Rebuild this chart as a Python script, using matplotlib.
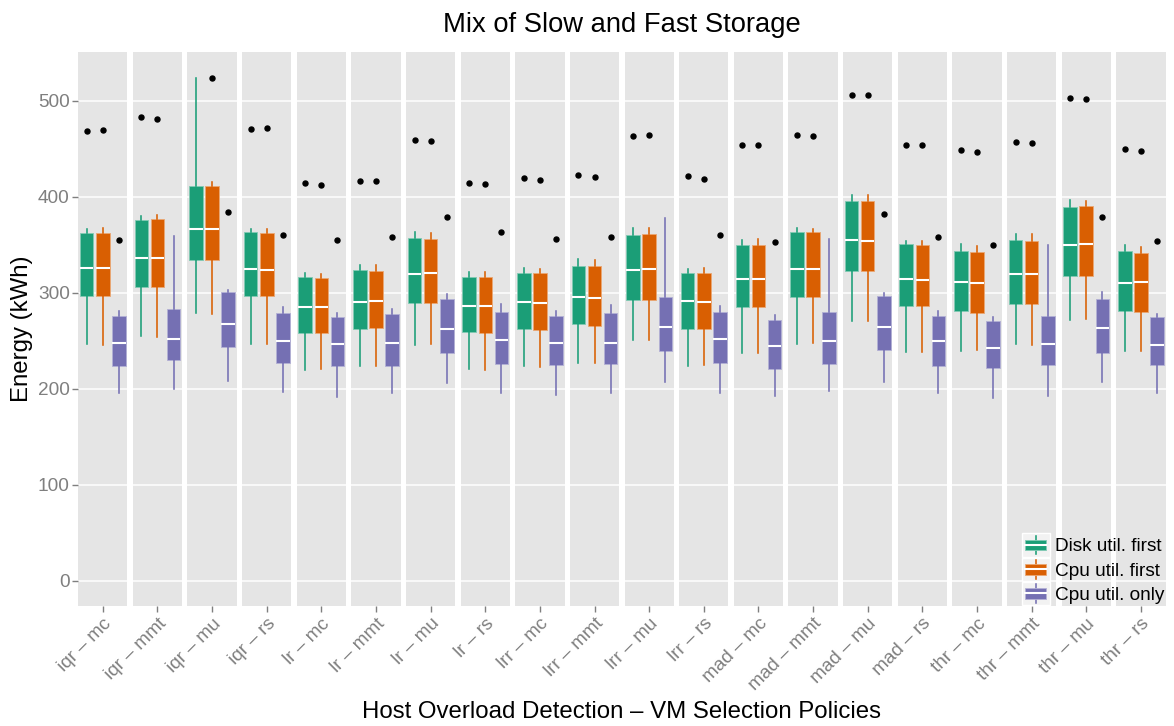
import numpy as np
import matplotlib
matplotlib.use("Agg")
import matplotlib.pyplot as plt
from matplotlib.legend_handler import HandlerBase
from matplotlib.patches import Rectangle, Patch
from matplotlib.lines import Line2D
from matplotlib.colors import to_rgb

plt.rcParams['font.family'] = ['Liberation Sans', 'DejaVu Sans']

# === DADOS ===
detections = ["iqr", "lr", "lrr", "mad", "thr"]
selections = ["mc", "mmt", "mu", "rs"]
policies = [d + " \u2013 " + s for d in detections for s in selections]

series_names = ["Disk util. first", "Cpu util. first", "Cpu util. only"]
series_colors = ["#1B9E77", "#D95F02", "#7570B3"]

# Disk util. first
disk_lo = [246.4, 254.7, 278.9, 247.1, 220.0, 223.8, 246.0, 220.7, 223.8, 227.3,
           251.2, 223.8, 237.7, 246.4, 270.6, 238.4, 239.4, 246.7, 271.3, 239.1]
disk_q1 = [296.3, 306.0, 334.0, 296.6, 257.8, 262.6, 289.3, 258.9, 262.0, 267.5,
           292.8, 262.0, 285.2, 295.6, 322.9, 285.9, 281.0, 288.3, 317.0, 280.7]
disk_med = [326.1, 335.8, 366.6, 324.7, 285.2, 290.7, 319.5, 285.9, 290.4, 295.6,
            324.0, 291.1, 314.6, 324.3, 354.5, 313.9, 310.8, 319.8, 349.6, 310.5]
disk_q3 = [362.4, 375.3, 411.0, 363.1, 316.0, 323.6, 357.2, 316.7, 320.9, 327.8,
           360.4, 320.9, 349.3, 362.8, 396.0, 350.3, 343.7, 354.5, 389.1, 343.4]
disk_hi = [366.6, 379.8, 523.6, 365.9, 320.9, 329.2, 363.5, 321.2, 325.4, 334.7,
           367.6, 325.0, 354.5, 367.6, 401.9, 354.1, 350.3, 361.4, 396.7, 349.3]
disk_out = [468.8, 483.4, None, 470.5, 414.4, 416.8, 459.5, 414.4, 420.0, 423.1,
            463.3, 422.0, 454.3, 464.7, 506.2, 454.3, 448.7, 457.0, 503.1, 450.1]

# Cpu util. first
cpuf_lo = [246.0, 254.3, 278.2, 246.4, 220.7, 223.5, 247.1, 220.0, 223.1, 227.3,
           250.9, 224.9, 237.0, 247.7, 270.6, 238.4, 240.1, 245.3, 272.7, 239.8]
cpuf_q1 = [296.3, 306.3, 334.0, 297.0, 257.8, 263.3, 289.3, 258.5, 261.6, 265.8,
           292.8, 262.0, 285.2, 295.6, 322.9, 286.6, 279.3, 288.3, 317.0, 280.0]
cpuf_med = [325.4, 336.5, 365.9, 324.0, 285.5, 291.8, 320.5, 286.2, 289.3, 294.9,
            324.7, 290.4, 313.9, 325.0, 354.1, 313.2, 310.1, 319.5, 350.7, 311.2]
cpuf_q3 = [362.4, 376.6, 411.0, 362.4, 315.3, 322.9, 356.2, 316.0, 320.5, 327.4,
           360.7, 320.9, 350.0, 362.8, 396.0, 350.0, 342.3, 354.1, 390.2, 341.6]
cpuf_hi = [367.6, 380.8, 415.1, 366.6, 319.8, 329.2, 362.4, 321.2, 324.7, 334.4,
           367.3, 326.1, 355.5, 365.9, 401.9, 354.1, 348.9, 360.7, 396.0, 347.5]
cpuf_out = [469.9, 480.9, 523.6, 471.6, 412.3, 416.8, 458.4, 413.7, 417.9, 421.0,
            464.7, 418.9, 454.3, 463.6, 506.2, 454.3, 447.0, 456.3, 502.1, 448.0]

# Cpu util. only
cpuo_lo = [195.8, 199.9, 207.6, 196.5, 191.6, 195.1, 205.5, 196.1, 193.7, 195.8,
           206.9, 195.1, 192.0, 198.2, 207.2, 195.1, 190.6, 192.7, 207.2, 196.1]
cpuo_q1 = [224.2, 229.7, 243.9, 227.3, 223.5, 224.2, 237.7, 226.3, 224.9, 225.9,
           239.4, 227.0, 221.1, 226.3, 240.8, 224.2, 221.8, 224.5, 237.7, 224.9]
cpuo_med = [247.4, 251.9, 267.8, 250.2, 247.1, 247.7, 262.3, 251.2, 247.7, 247.7,
            264.4, 251.6, 244.6, 249.5, 264.4, 249.5, 242.2, 247.1, 263.7, 245.7]
cpuo_q3 = [275.8, 283.1, 300.8, 279.3, 275.1, 277.9, 293.5, 280.0, 276.2, 278.6,
           295.9, 279.6, 271.3, 280.3, 296.3, 275.5, 270.3, 275.8, 293.5, 275.1]
cpuo_hi = [281.0, 359.3, 302.5, 284.8, 279.3, 283.4, 299.0, 288.3, 280.7, 287.6,
           378.0, 286.6, 276.5, 355.5, 299.7, 280.7, 275.1, 349.3, 300.8, 277.5]
cpuo_out = [355.2, None, 384.6, 360.4, 355.2, 357.6, 379.4, 362.8, 355.5, 357.6,
            None, 360.4, 352.4, None, 381.5, 357.6, 349.3, None, 378.4, 353.4]

series_stats = [
    (disk_lo, disk_q1, disk_med, disk_q3, disk_hi, disk_out),
    (cpuf_lo, cpuf_q1, cpuf_med, cpuf_q3, cpuf_hi, cpuf_out),
    (cpuo_lo, cpuo_q1, cpuo_med, cpuo_q3, cpuo_hi, cpuo_out),
]

GREY = "#7F7F7F"
PANEL = "#E5E5E5"


def lighter(c, f=0.45):
    r, g, b = to_rgb(c)
    return (r + (1 - r) * f, g + (1 - g) * f, b + (1 - b) * f)


# === FIGURA ===
fig, axes = plt.subplots(1, len(policies), figsize=(11.74, 7.26), dpi=100, sharey=True)
fig.subplots_adjust(left=0.0666, right=0.9928, top=0.9277, bottom=0.1653, wspace=0.108)

for i, ax in enumerate(axes):
    ax.set_facecolor(PANEL)
    for s in ax.spines.values():
        s.set_visible(False)
    ax.yaxis.grid(True, color="white", linewidth=1.1)
    ax.set_axisbelow(True)

    for k, (lo, q1, med, q3, hi, out) in enumerate(series_stats):
        c = series_colors[k]
        st = [{"whislo": lo[i], "q1": q1[i], "med": med[i], "q3": q3[i],
               "whishi": hi[i], "fliers": [] if out[i] is None else [out[i]]}]
        ax.bxp(st, positions=[k - 1], widths=0.84, patch_artist=True,
               showcaps=False, showfliers=True,
               boxprops=dict(facecolor=c, edgecolor=lighter(c), linewidth=0.6),
               whiskerprops=dict(color=c, linewidth=1.15),
               medianprops=dict(color="white", linewidth=1.5),
               flierprops=dict(marker="o", markerfacecolor="black",
                               markeredgecolor="black", markersize=3.6,
                               linestyle="none"))

    ax.set_xlim(-1.53, 1.53)
    ax.set_ylim(-26.2, 550.2)
    ax.set_xticks([0])
    ax.set_xticklabels([policies[i]], rotation=45, ha="right", va="top",
                       rotation_mode="anchor", fontsize=13.7, color=GREY)
    ax.tick_params(axis="x", colors=GREY, length=4, width=1, pad=2.5, labelcolor=GREY)
    if i == 0:
        ax.set_yticks([0, 100, 200, 300, 400, 500])
        ax.tick_params(axis="y", colors=GREY, length=4, width=1, pad=2,
                       labelsize=13.7, labelcolor=GREY)
    else:
        ax.tick_params(axis="y", length=0, labelleft=False)

cx = (0.0666 + 0.9928) / 2
fig.text(cx, 0.9656, "Mix of Slow and Fast Storage", ha="center", va="center",
         fontsize=19.7, color="black")
fig.text(cx, 0.0193, "Host Overload Detection \u2013 VM Selection Policies",
         ha="center", va="center", fontsize=17.3, color="black")
fig.text(0.019, (0.9277 + 0.1653) / 2, "Energy (kWh)", rotation=90,
         ha="center", va="center", fontsize=17.3, color="black")


# --- Legenda com glifo de boxplot ---
class BoxHandler(HandlerBase):
    def create_artists(self, legend, orig_handle, xdescent, ydescent,
                       width, height, fontsize, trans):
        c = orig_handle.get_facecolor()
        x0, y0 = -xdescent, -ydescent
        bg = Rectangle((x0, y0), width, height, facecolor="#F2F2F2",
                       edgecolor="white", linewidth=1, transform=trans)
        xm = x0 + width / 2
        wl = Line2D([xm, xm], [y0 + 0.1 * height, y0 + 0.9 * height],
                    color=c, linewidth=1.15, transform=trans)
        bx = Rectangle((x0 + 0.12 * width, y0 + 0.27 * height), 0.76 * width,
                       0.46 * height, facecolor=c, edgecolor=lighter(c),
                       linewidth=0.6, transform=trans)
        md = Line2D([x0 + 0.12 * width, x0 + 0.88 * width],
                    [y0 + height / 2, y0 + height / 2],
                    color="white", linewidth=1.5, transform=trans)
        return [bg, wl, bx, md]


handles = [Patch(facecolor=c) for c in series_colors]
fig.legend(handles, series_names, handler_map={Patch: BoxHandler()},
           loc="lower left", bbox_to_anchor=(1021.7 / 1174, 1 - 605 / 726),
           frameon=False, fontsize=13.7, handlelength=1.47, handleheight=1.5,
           labelspacing=0.05, handletextpad=0.26, borderpad=0, borderaxespad=0)

plt.savefig("out.png", dpi=100)
